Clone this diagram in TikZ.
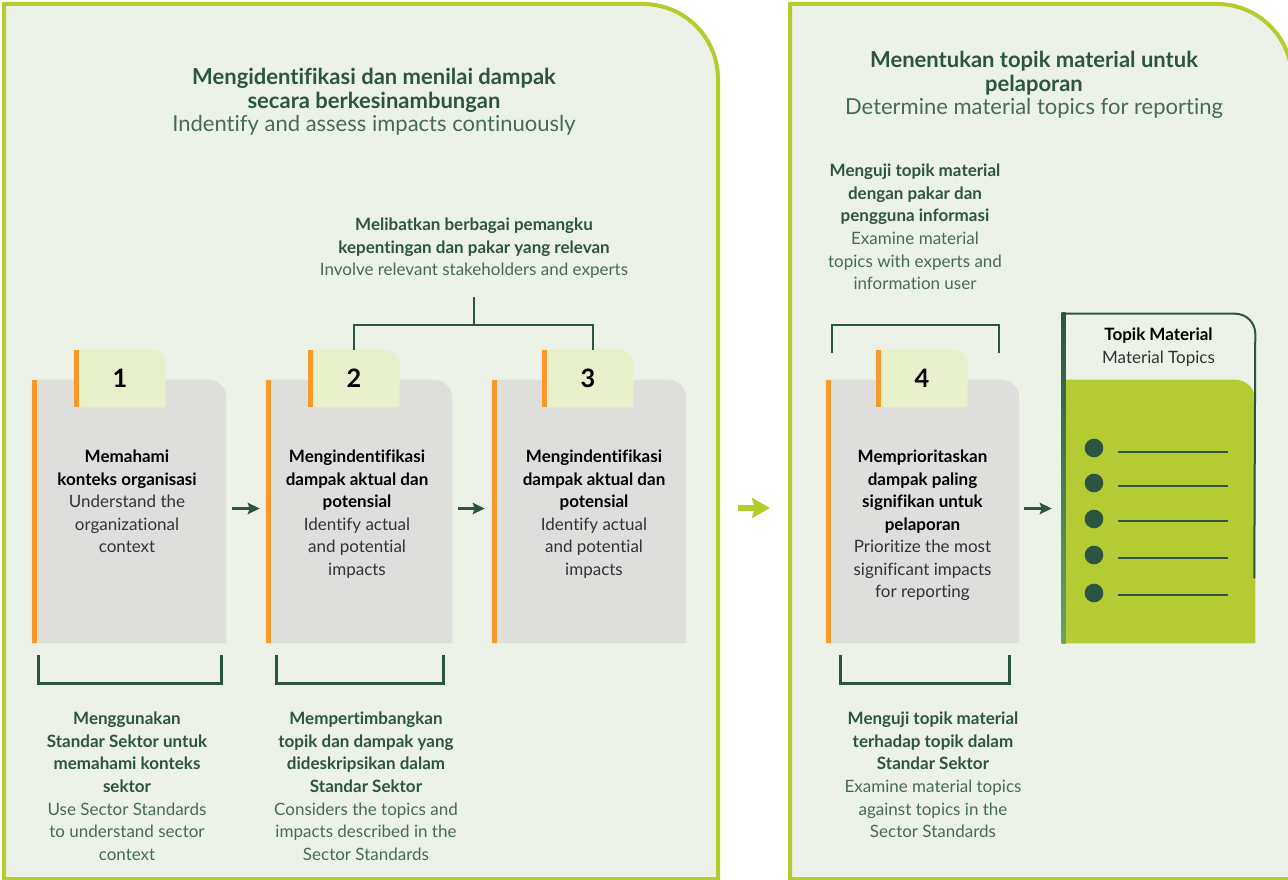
\documentclass[tikz,border=0pt]{standalone}
\usepackage{fontspec}
\setmainfont[Ligatures={NoCommon}]{Lato}
\usetikzlibrary{arrows.meta}
\usetikzlibrary{positioning}
\definecolor{panelfill}{HTML}{EDF2E8}
\definecolor{limeline}{HTML}{B5CC2E}
\definecolor{darkgreen}{HTML}{2C5541}
\definecolor{notegreen}{HTML}{456B58}
\definecolor{leafgreen}{HTML}{6FA05C}
\definecolor{boxgray}{HTML}{DEDFDC}
\definecolor{tabfill}{HTML}{E8EFCB}
\definecolor{accent}{HTML}{F7992B}
\definecolor{limefill}{HTML}{B4CB34}
\definecolor{textgray}{HTML}{333333}
\newcommand{\boxhead}[1]{{\color{black}\bfseries #1}}
\newcommand{\notehead}[1]{{\color{darkgreen}\bfseries #1}}
\tikzstyle{panel}=[draw=limeline, fill=panelfill, line width=3pt]
\tikzstyle{boxshape}=[inner sep=0pt, minimum height=197.25pt]
\tikzstyle{tabshape}=[inner sep=0pt, minimum width=68pt, minimum height=42.75pt]
\tikzstyle{numtext}=[inner sep=0pt, font=\bfseries\fontsize{19}{20}\selectfont]
\tikzstyle{boxtext}=[inner sep=0pt, align=center, text=textgray, font=\fontsize{12.75}{16.9}\selectfont]
\tikzstyle{notetext}=[boxtext, text=notegreen]
\tikzstyle{headtext}=[inner sep=0pt, align=center, text=notegreen, font=\fontsize{16.5}{17.6}\selectfont]
\tikzstyle{flow}=[darkgreen, line width=2pt, -{Stealth[length=9pt, width=8.5pt, inset=1.5pt]}]
\tikzstyle{bigflow}=[limeline, line width=4.5pt, -{Stealth[length=13.5pt, width=15pt, inset=2pt]}]
\tikzstyle{bracket}=[darkgreen, line width=2pt]

\begin{document}
\begin{tikzpicture}[x=0.75pt, y=-0.75pt]
    \useasboundingbox (0,0) rectangle (1288,880);
    \fill[white] (0,0) rectangle (1288,880);

    % the two panels
    \draw[panel] (4,879) -- (4,4) -- (643,4) arc[start angle=90, end angle=0, radius=56.25pt] -- (718,879) -- cycle;
    \draw[panel] (790,879) -- (790,4) -- (1217,4) arc[start angle=90, end angle=0, radius=56.25pt] -- (1292,879) -- cycle;
    \coordinate (pL) at (718,508);
    \coordinate (pR) at (790,508);

    \node[headtext, anchor=north] (h1) at (374,68) {\notehead{Mengidentifikasi dan menilai dampak}\\\notehead{secara berkesinambungan}\\Indentify and assess impacts continuously};
    \node[headtext, anchor=north] (h2) at (1034,51) {\notehead{Menentukan topik material untuk}\\\notehead{pelaporan}\\Determine material topics for reporting};

    % steps
    \node[boxshape, minimum width=145.5pt] (b1) at (129,511.5) {};
    \node[boxshape, minimum width=139.5pt] (b2) at (359,511.5) {};
    \node[boxshape, minimum width=145.5pt] (b3) at (589,511.5) {};
    \node[boxshape, minimum width=144.75pt] (b4) at (922.5,511.5) {};
    \node[tabshape] (t1) at (120,378.5) {};
    \node[tabshape] (t2) at (354,378.5) {};
    \node[tabshape] (t3) at (588,378.5) {};
    \node[tabshape] (t4) at (922,378.5) {};
    \foreach \bx in {b1,b2,b3,b4}{
        \fill[boxgray] (\bx.south west) -- (\bx.north west) -- ([xshift=-13.5pt]\bx.north east) arc[start angle=90, end angle=0, radius=13.5pt] -- (\bx.south east) -- cycle;
        \fill[accent] (\bx.south west) rectangle ([xshift=3.75pt]\bx.north west);
    }
    \foreach \tx in {t1,t2,t3,t4}{
        \fill[tabfill] (\tx.south west) -- (\tx.north west) -- ([xshift=-10pt]\tx.north east) arc[start angle=90, end angle=0, radius=10pt] -- (\tx.south east) -- cycle;
        \fill[accent] (\tx.south west) rectangle ([xshift=3.75pt]\tx.north west);
    }
    \node[numtext] (n1) at (t1) {1};
    \node[numtext] (n2) at (t2) {2};
    \node[numtext] (n3) at (t3) {3};
    \node[numtext] (n4) at (t4) {4};

    \node[boxtext, below=52.5pt of b1.north, xshift=-1.5pt] (x1) {\boxhead{Memahami}\\\boxhead{konteks organisasi}\\Understand the\\organizational\\context};
    \node[boxtext, below=52.5pt of b2.north, xshift=-1.5pt] (x2) {\boxhead{Mengindentifikasi}\\\boxhead{dampak aktual dan}\\\boxhead{potensial}\\Identify actual\\and potential\\impacts};
    \node[boxtext, below=52.5pt of b3.north, xshift=3.75pt] (x3) {\boxhead{Mengindentifikasi}\\\boxhead{dampak aktual dan}\\\boxhead{potensial}\\Identify actual\\and potential\\impacts};
    \node[boxtext, below=52.5pt of b4.north] (x4) {\boxhead{Memprioritaskan}\\\boxhead{dampak paling}\\\boxhead{signifikan untuk}\\\boxhead{pelaporan}\\Prioritize the most\\significant impacts\\for reporting};

    % material topics
    \node[inner sep=0pt, minimum width=144.75pt, minimum height=247.5pt] (tm) at (1158.5,478) {};
    \fill[limefill] ([xshift=3pt]tm.south west) -- ([xshift=3pt, yshift=-50.25pt]tm.north west) -- ([xshift=-15pt, yshift=-50.25pt]tm.north east) arc[start angle=90, end angle=0, radius=15pt] -- (tm.south east) -- cycle;
    \draw[darkgreen, line width=1.5pt] ([xshift=1pt, yshift=-0.75pt]tm.north west) -- ([xshift=-15pt, yshift=-0.75pt]tm.north east) arc[start angle=90, end angle=0, radius=15pt] -- ([xshift=-0.75pt, yshift=48.75pt]tm.south east);
    \shade[top color=darkgreen, bottom color=leafgreen] (tm.south west) rectangle ([xshift=3pt]tm.north west);
    \node[boxtext, below=11.25pt of tm.north] (tt) {\boxhead{Topik Material}\\Material Topics};
    \foreach \yy/\ly in {448/452, 483/486, 519/521, 555/558, 593/595}{
        \fill[darkgreen] (1094,\yy) circle[radius=7pt];
        \draw[darkgreen, line width=1.5pt] (1118,\ly) -- (1228,\ly);
    }

    % arrows
    \draw[flow, shorten <=4.5pt, shorten >=4.5pt] ([yshift=2.25pt]b1.east) -- ([yshift=2.25pt]b2.west);
    \draw[flow, shorten <=4.5pt, shorten >=5.25pt] ([yshift=2.25pt]b2.east) -- ([yshift=2.25pt]b3.west);
    \draw[flow, shorten <=3.75pt, shorten >=7.5pt] ([yshift=2.25pt]b4.east) -- ([yshift=2.25pt]b4.east -| tm.west);
    \draw[bigflow, shorten <=15pt, shorten >=15pt] (pL) -- (pR);

    % brackets and notes
    \coordinate (j23) at (474,325);
    \draw[bracket] (t2.north) |- (j23) -| ([xshift=3.75pt]t3.north);
    \draw[bracket] (j23) -- ++(0,-28);
    \node[notetext, anchor=north] (m23) at (474,218) {\notehead{Melibatkan berbagai pemangku}\\\notehead{kepentingan dan pakar yang relevan}\\Involve relevant stakeholders and experts};

    \coordinate (k4a) at (832,353);
    \coordinate (k4b) at (999,353);
    \draw[bracket] (k4a) -- ++(0,-28) -| (k4b);
    \node[notetext, anchor=north] (m4) at (915,164) {\notehead{Menguji topik material}\\\notehead{dengan pakar dan}\\\notehead{pengguna informasi}\\Examine material\\topics with experts and\\information user};

    \draw[bracket] ([xshift=5.25pt, yshift=-9pt]b1.south west) -- ++(0,28) -| ([xshift=-3.75pt, yshift=-9pt]b1.south east);
    \draw[bracket] ([xshift=8.25pt, yshift=-9pt]b2.south west) -- ++(0,28) -| ([xshift=-6.75pt, yshift=-9pt]b2.south east);
    \draw[bracket] ([xshift=11.25pt, yshift=-9pt]b4.south west) -- ++(0,28) -| ([xshift=-7.5pt, yshift=-9pt]b4.south east);

    \node[notetext, anchor=north] (m1) at (127,712) {\notehead{Menggunakan}\\\notehead{Standar Sektor untuk}\\\notehead{memahami konteks}\\\notehead{sektor}\\Use Sector Standards\\to understand sector\\context};
    \node[notetext, anchor=north] (m2) at (366,712) {\notehead{Mempertimbangkan}\\\notehead{topik dan dampak yang}\\\notehead{dideskripsikan dalam}\\\notehead{Standar Sektor}\\Considers the topics and\\impacts described in the\\Sector Standards};
    \node[notetext, anchor=north] (m4b) at (933,712) {\notehead{Menguji topik material}\\\notehead{terhadap topik dalam}\\\notehead{Standar Sektor}\\Examine material topics\\against topics in the\\Sector Standards};
\end{tikzpicture}
\end{document}
